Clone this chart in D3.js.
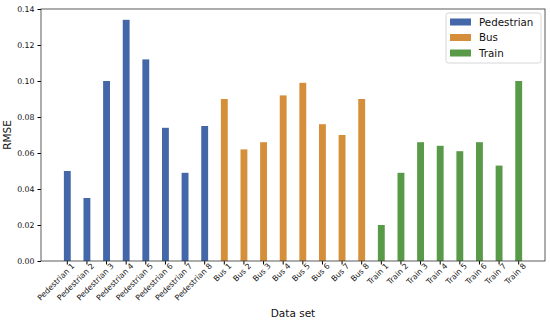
<!DOCTYPE html>
<html>
<head>
<meta charset="utf-8">
<script src="https://cdn.jsdelivr.net/npm/d3@7"></script>
<style>
  body { margin: 0; background: #fff; }
  text { font-family: "DejaVu Sans", sans-serif; fill: #111; }
</style>
</head>
<body>
<div id="chart"></div>
<script>
// Datos
const groups = ["Pedestrian", "Bus", "Train"];
const pedestrian = [0.050, 0.035, 0.100, 0.134, 0.112, 0.074, 0.049, 0.075];
const bus = [0.090, 0.062, 0.066, 0.092, 0.099, 0.076, 0.070, 0.090];
const train = [0.020, 0.049, 0.066, 0.064, 0.061, 0.066, 0.053, 0.100];
const yTicks = [0, 0.02, 0.04, 0.06, 0.08, 0.10, 0.12, 0.14];

const colors = { Pedestrian: "#4467a9", Bus: "#d58f3b", Train: "#589a48" };
const series = { Pedestrian: pedestrian, Bus: bus, Train: train };

const data = [];
groups.forEach(g => {
    series[g].forEach((v, i) => data.push({ name: g + " " + (i + 1), group: g, value: v }));
});

const W = 550, H = 323;
const margin = { top: 9, right: 5, bottom: 62, left: 41 };
const width = W - margin.left - margin.right;
const height = H - margin.top - margin.bottom;

const svg = d3.select("#chart").append("svg")
    .attr("width", W).attr("height", H)
    .append("g")
    .attr("transform", `translate(${margin.left},${margin.top})`);

const x = d3.scaleBand()
    .domain(data.map(d => d.name))
    .range([0, width])
    .paddingInner(0.65)
    .paddingOuter(1.165);

const y = d3.scaleLinear().domain([0, 0.14]).range([height, 0]);

// Barras
svg.selectAll("rect.bar")
    .data(data)
    .enter().append("rect")
    .attr("class", "bar")
    .attr("x", d => x(d.name))
    .attr("y", d => y(d.value))
    .attr("width", x.bandwidth())
    .attr("height", d => height - y(d.value))
    .attr("fill", d => colors[d.group]);

// Ejes
const yAxis = svg.append("g")
    .call(d3.axisLeft(y).tickValues(yTicks).tickFormat(d3.format(".2f")).tickSize(3.5).tickPadding(3));
yAxis.select(".domain").remove();
yAxis.selectAll("text").style("font-size", "7.8px");

const xAxis = svg.append("g")
    .attr("transform", `translate(0,${height})`)
    .call(d3.axisBottom(x).tickSize(3.5).tickPadding(2));
xAxis.select(".domain").remove();
xAxis.selectAll("text")
    .style("font-size", "7.8px")
    .style("text-anchor", "end")
    .attr("dx", "0.2em")
    .attr("dy", "0.5em")
    .attr("transform", "rotate(-45)");

// Marco
svg.append("rect")
    .attr("width", width).attr("height", height)
    .attr("fill", "none").attr("stroke", "#333").attr("stroke-width", 0.8);

// Títulos
svg.append("text")
    .attr("x", width / 2)
    .attr("y", height + 56)
    .style("text-anchor", "middle")
    .style("font-size", "10.5px")
    .text("Data set");

svg.append("text")
    .attr("transform", "rotate(-90)")
    .attr("x", -height / 2)
    .attr("y", -30)
    .style("text-anchor", "middle")
    .style("font-size", "10.5px")
    .text("RMSE");

// Leyenda
const legend = svg.append("g").attr("transform", `translate(${446 - margin.left},${13 - margin.top})`);
legend.append("rect")
    .attr("width", 95).attr("height", 50)
    .attr("rx", 2.5)
    .attr("fill", "#fff").attr("fill-opacity", 0.8)
    .attr("stroke", "#ccc").attr("stroke-width", 0.8);
groups.forEach((g, i) => {
    const row = legend.append("g").attr("transform", `translate(0,${9 + i * 15.5})`);
    row.append("rect").attr("x", 4).attr("y", -3.5).attr("width", 21).attr("height", 7).attr("fill", colors[g]);
    row.append("text").attr("x", 33).attr("y", 0).attr("dy", "0.35em").style("font-size", "10.3px").text(g);
});
</script>
</body>
</html>
